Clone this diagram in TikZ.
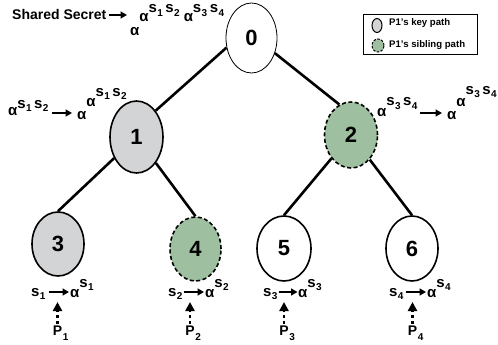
\documentclass[tikz,border=0pt]{standalone}
\usepackage{fontspec}
\setmainfont{Liberation Sans}
\usetikzlibrary{arrows.meta,shapes.geometric}
\definecolor{keygrey}{RGB}{211,212,214}
\definecolor{sibgreen}{RGB}{158,192,160}
\newcommand{\al}{α}
\newcommand{\sv}[1]{s\kern0.4pt\raisebox{-3.5pt}{\fontsize{10}{10}\selectfont #1}}
\newcommand{\pv}[1]{P\rlap{\kern0.8pt\raisebox{-5pt}{\fontsize{10}{10}\selectfont #1}}}
\tikzset{
  treenode/.style={ellipse, draw, line width=1.6pt, inner sep=0pt,
    font=\fontsize{22}{22}\selectfont\bfseries},
  keyn/.style={treenode, fill=keygrey},
  sibn/.style={treenode, fill=sibgreen, dash pattern=on 4pt off 2.5pt},
  plainn/.style={treenode, fill=white},
  rootn/.style={treenode, fill=white, line width=0.8pt},
  edge/.style={line width=2.6pt},
  lbl/.style={inner sep=0pt, anchor=base west, font=\fontsize{15}{15}\selectfont\bfseries},
  plbl/.style={inner sep=0pt, anchor=base, font=\fontsize{14}{14}\selectfont\bfseries},
  arr/.style={line width=1.6pt, -{Triangle[length=6.5pt,width=7pt]}},
  parr/.style={line width=2.6pt, dash pattern=on 3.5pt off 2.5pt, -{Triangle[length=9pt,width=9pt]}},
  legtext/.style={inner sep=0pt, anchor=west, font=\fontsize{9.6}{9.6}\selectfont\bfseries},
  legicon/.style={ellipse, draw, line width=1pt, inner sep=0pt},
}
\begin{document}
\begin{tikzpicture}[x=1pt,y=-1pt]
\useasboundingbox (0,0) rectangle (498,345);
% tree nodes
\node[rootn, minimum width=51pt, minimum height=70pt] (n0) at (251.5,38) {0};
\node[keyn, minimum width=53pt, minimum height=72pt] (n1) at (136.5,137) {1};
\node[sibn, minimum width=53pt, minimum height=66pt] (n2) at (351,135) {2};
\node[keyn, minimum width=52pt, minimum height=64pt] (n3) at (58,244) {3};
\node[sibn, minimum width=51pt, minimum height=64pt] (n4) at (195.5,249) {4};
\node[plainn, minimum width=54pt, minimum height=65pt] (n5) at (284,248.5) {5};
\node[plainn, minimum width=52pt, minimum height=65pt] (n6) at (412,248.5) {6};
% edges
\draw[edge] (n0.201) -- (n1.54);
\draw[edge] (n0.327) -- (n2.111);
\draw[edge] (n1) -- (n3.north);
\draw[edge] (n1) -- (n4.north);
\draw[edge] (n2) -- (n5.north);
\draw[edge] (n2) -- (n6.north);
% shared secret
\node[lbl, font=\fontsize{14}{14}\selectfont\bfseries] (ss) at (12,20) {Shared Secret};
\coordinate (ssa) at (127,15);
\node[lbl] (rf) at (130,36) {\al\raisebox{14pt}{\al\raisebox{9pt}{\sv1\,\sv2}\hspace{4pt}\al\raisebox{9pt}{\sv3\,\sv4}}};
\draw[arr] ([xshift=2pt]ss.east |- ssa) -- (ssa);
% label left of node 1
\node[lbl] (l1a) at (8,115) {\al\raisebox{7pt}{\sv1\,\sv2}};
\node[lbl] (l1b) at (77,119) {\al\raisebox{13pt}{\al\raisebox{10pt}{\sv1\,\sv2}}};
\coordinate (l1t) at (72,113);
\draw[arr] (l1a.east |- l1t) ++(3pt,0) -- (l1t);
% label right of node 2
\node[lbl] (r2a) at (377,116) {\al\raisebox{10pt}{\sv3\,\sv4}};
\node[lbl] (r2b) at (447,119) {\al\raisebox{13pt}{\al\raisebox{12pt}{\sv3\,\sv4}}};
\coordinate (r2t) at (442,113);
\draw[arr] (r2a.east |- r2t) ++(2pt,0) -- (r2t);
% leaf labels
\node[lbl] (b3s) at (31,296) {\sv1};
\node[lbl] (b3a) at (70,297) {\al\raisebox{10pt}{\sv1}};
\node[plbl] (b3p) at (57.5,335) {\pv1};
\coordinate (b3t) at (69,292);
\draw[arr] (b3s.east |- b3t) ++(3pt,0) -- (b3t);
\draw[parr] ([yshift=1pt]b3p.north) -- (b3p.north |- 0,302);

\node[lbl] (b4s) at (168,296) {\sv2};
\node[lbl] (b4a) at (205,297) {\al\raisebox{10pt}{\sv2}};
\node[plbl] (b4p) at (190,335) {\pv2};
\coordinate (b4t) at (204,292);
\draw[arr] (b4s.east |- b4t) ++(1pt,0) -- (b4t);
\draw[parr] ([yshift=1pt]b4p.north) -- (b4p.north |- 0,302);

\node[lbl] (b5s) at (263,296) {\sv3};
\node[lbl] (b5a) at (298,297) {\al\raisebox{10pt}{\sv3}};
\node[plbl] (b5p) at (284,335) {\pv3};
\coordinate (b5t) at (297.5,292);
\draw[arr] (b5s.east |- b5t) ++(1pt,0) -- (b5t);
\draw[parr] ([yshift=1pt]b5p.north) -- (b5p.north |- 0,302);

\node[lbl] (b6s) at (389,296) {\sv4};
\node[lbl] (b6a) at (427,297) {\al\raisebox{10pt}{\sv4}};
\node[plbl] (b6p) at (412.5,335) {\pv4};
\coordinate (b6t) at (426,292);
\draw[arr] (b6s.east |- b6t) ++(2pt,0) -- (b6t);
\draw[parr] ([yshift=1pt]b6p.north) -- (b6p.north |- 0,302);
% legend
\node[draw, line width=1pt, minimum width=114pt, minimum height=40pt, inner sep=0pt] (leg) at (420,35) {};
\node[legicon, fill=keygrey, minimum width=10pt, minimum height=14pt] (lk) at (377,25.5) {};
\node[legicon, fill=sibgreen, dash pattern=on 2.5pt off 1.5pt, minimum width=12pt, minimum height=13pt] (ls) at (378,45.5) {};
\node[legtext] (lkt) at (389,23) {P1’s key path};
\node[legtext] (lst) at (389,45) {P1’s sibling path};
\end{tikzpicture}
\end{document}
